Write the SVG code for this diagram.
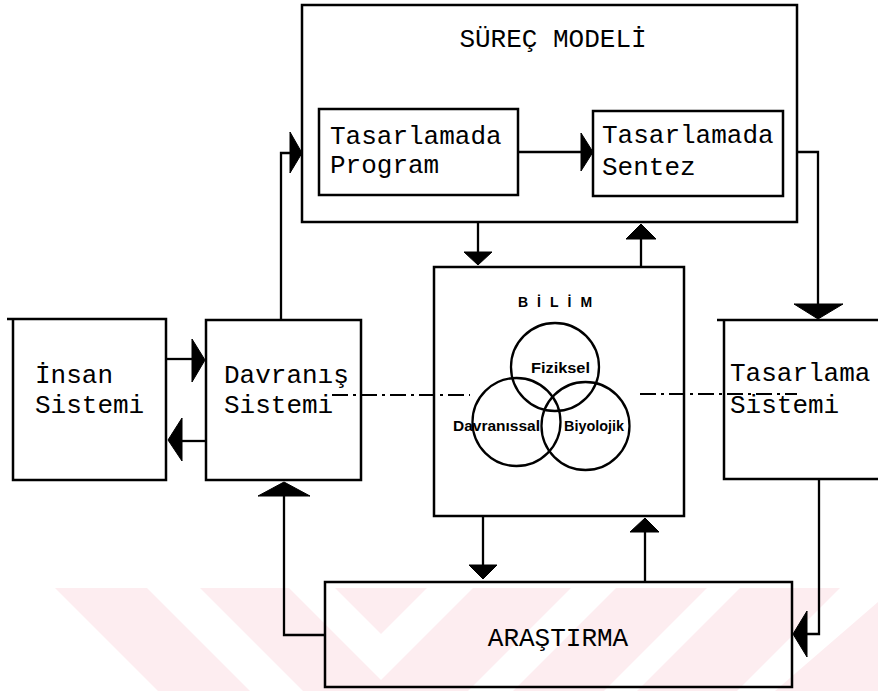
<svg xmlns="http://www.w3.org/2000/svg" width="878" height="691" viewBox="0 0 878 691">
<style>
.box{fill:none;stroke:#000;stroke-width:2.5}
.ln{fill:none;stroke:#000;stroke-width:2.3}
.dd{fill:none;stroke:#000;stroke-width:2;stroke-dasharray:16 5 3 5}
.hd{fill:#000;stroke:#000;stroke-width:1;stroke-linejoin:round}
.c{fill:none;stroke:#000;stroke-width:2.3}
.t{font-family:"Liberation Mono","DejaVu Sans Mono",monospace;font-size:26px;fill:#000}
.s{font-family:"Liberation Sans",Arial,sans-serif;font-weight:bold;font-size:14px;fill:#000}
.hdr{font-family:"Liberation Sans",Arial,sans-serif;font-weight:bold;font-size:14px;letter-spacing:9px;fill:#000}
.wm{fill:#fdedf0}
.wh{fill:#fff}
</style>
<rect width="878" height="691" fill="#fff"/>
<g id="watermark">
<polygon class="wm" points="55,588 878,588 878,691 158,691"/>
<polygon class="wh" points="147,588 200,588 303,691 250,691"/>
<polygon class="wh" points="289,588 335,588 381,634 427,588 473,588 381,680"/>
<polygon class="wh" points="571,588 616,588 513,691 468,691"/>
<polygon class="wh" points="707,588 740,588 637,691 604,691"/>
<polygon class="wh" points="840,588 878,588 878,602 775,691 737,691"/>
</g>
<g id="surec-modeli">
<rect class="box" x="302" y="5" width="495" height="217"/>
<text class="t" x="553" y="47" text-anchor="middle">SÜREÇ MODELİ</text>
</g>
<g id="tasarlamada-program">
<rect class="box" x="319" y="109" width="199" height="86"/>
<text class="t" x="330" y="144">Tasarlamada</text>
<text class="t" x="330" y="173">Program</text>
</g>
<g id="tasarlamada-sentez">
<rect class="box" x="593" y="111" width="190" height="85"/>
<text class="t" x="602" y="143">Tasarlamada</text>
<text class="t" x="602" y="175">Sentez</text>
</g>
<g id="bilim">
<rect class="box" x="434" y="267" width="250" height="249"/>
<text class="hdr" x="518" y="307">BİLİM</text>
<circle class="c" cx="555" cy="367" r="44"/>
<circle class="c" cx="516.5" cy="422" r="44"/>
<circle class="c" cx="585.5" cy="426" r="44"/>
<text class="s" x="531" y="373" textLength="59" lengthAdjust="spacingAndGlyphs">Fiziksel</text>
<text class="s" x="453" y="431" textLength="87" lengthAdjust="spacingAndGlyphs">Davranıssal</text>
<text class="s" x="564" y="431" textLength="60" lengthAdjust="spacingAndGlyphs">Biyolojik</text>
</g>
<g id="insan-sistemi">
<path class="box" d="M7,319 H166 V480 H13 V319"/>
<text class="t" x="35" y="383">İnsan</text>
<text class="t" x="35" y="413">Sistemi</text>
</g>
<g id="davranis-sistemi">
<rect class="box" x="206" y="320" width="155" height="160"/>
<text class="t" x="224" y="383">Davranış</text>
<text class="t" x="224" y="413">Sistemi</text>
</g>
<g id="tasarlama-sistemi">
<path class="box" d="M717,320 H890 M724,320 V479 H890"/>
<text class="t" x="730" y="381">Tasarlama</text>
<text class="t" x="730" y="413">Sistemi</text>
</g>
<g id="arastirma">
<rect class="box" x="325" y="582" width="467" height="105"/>
<text class="t" x="558" y="646" text-anchor="middle">ARAŞTIRMA</text>
</g>
<g id="connectors">
<line class="ln" x1="518" y1="152" x2="582" y2="152"/>
<polygon class="hd" points="593,152 581,133 581,171"/>
<path class="ln" d="M281,320 V153 H290"/>
<polygon class="hd" points="302,153 290,132 290,173"/>
<path class="ln" d="M797,152 H818 V304"/>
<polygon class="hd" points="818,319 794,304 843,304"/>
<line class="ln" x1="478" y1="222" x2="478" y2="252"/>
<polygon class="hd" points="478,265 464,252 492,252"/>
<line class="ln" x1="641" y1="267" x2="641" y2="239"/>
<polygon class="hd" points="641,224 626,239 656,239"/>
<line class="ln" x1="166" y1="359" x2="192" y2="359"/>
<polygon class="hd" points="205,360 192,339 192,382"/>
<line class="ln" x1="206" y1="441" x2="182" y2="441"/>
<polygon class="hd" points="168,440 182,418 182,461"/>
<path class="ln" d="M325,635 H284 V496"/>
<polygon class="hd" points="284,482 258,496 310,496"/>
<line class="ln" x1="483" y1="516" x2="483" y2="565"/>
<polygon class="hd" points="483,579 469,565 497,565"/>
<line class="ln" x1="645" y1="582" x2="645" y2="532"/>
<polygon class="hd" points="645,518 630,532 659,532"/>
<path class="ln" d="M819,479 V634 H806"/>
<polygon class="hd" points="793,634 807,611 807,657"/>
<line class="dd" x1="332" y1="395" x2="470" y2="395"/>
<line class="dd" x1="640" y1="394" x2="797" y2="394"/>
</g>
</svg>
